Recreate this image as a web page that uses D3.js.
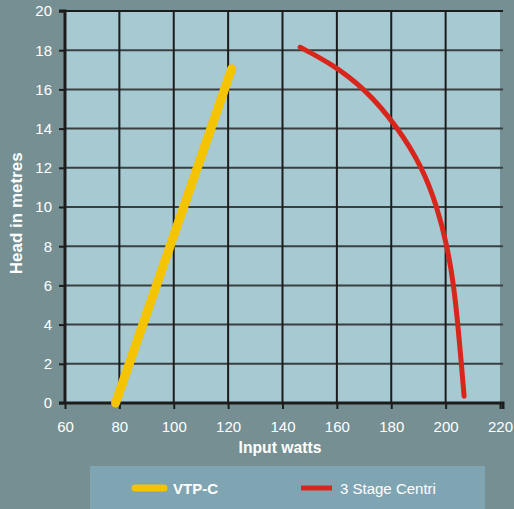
<!DOCTYPE html>
<html><head><meta charset="utf-8">
<script src="https://cdn.jsdelivr.net/npm/d3@7"></script>
<style>body{margin:0;background:#758f93;}svg{display:block;font-family:"Liberation Sans",Arial,sans-serif;}</style>
</head><body>
<svg id="c" width="514" height="509"></svg>
<script>
const xTicks = [60,80,100,120,140,160,180,200,220];
const yTicks = [0,2,4,6,8,10,12,14,16,18,20];
const vtpX = [78.6, 121.3];
const vtpY = [0, 17.05];
const centriX = [146.5,157.4,170.3,182.5,191.5,196.9,200.6,203,204.5,205.8,206.8];
const centriY = [18.15,17.36,16.05,14.05,12,10,8,6,4,2,0.35];
const seriesNames = ["VTP-C","3 Stage Centri"];

const svg = d3.select("#c");
const L=65,R=500,T=11,B=403;
const x = d3.scaleLinear().domain([60,220]).range([L,R]);
const y = d3.scaleLinear().domain([0,20]).range([B,T]);

svg.append("rect").attr("width",514).attr("height",509).attr("fill","#758f93");
svg.append("rect").attr("x",L).attr("y",T).attr("width",R-L).attr("height",B-T).attr("fill","#a7c9d1");

// grid
svg.append("g").selectAll("line").data(yTicks.slice(1)).join("line")
 .attr("x1",L).attr("x2",R+3).attr("y1",d=>y(d)).attr("y2",d=>y(d))
 .attr("stroke",d=>d===20?"#1c1c1c":"#3a3f40").attr("stroke-width",2);
svg.append("g").selectAll("line").data(xTicks.slice(1,-1)).join("line")
 .attr("x1",d=>x(d)).attr("x2",d=>x(d)).attr("y1",T).attr("y2",B)
 .attr("stroke","#1c1c1c").attr("stroke-width",2);

// axes
const ya = svg.append("g").attr("transform",`translate(${L},0)`)
 .call(d3.axisLeft(y).tickValues(yTicks).tickSize(6).tickPadding(7));
const xa = svg.append("g").attr("transform",`translate(0,${B})`)
 .call(d3.axisBottom(x).tickValues(xTicks).tickSize(6).tickPadding(12));
[ya,xa].forEach(a=>{
  a.select(".domain").attr("stroke","#1c1c1c").attr("stroke-width",3);
  a.selectAll(".tick line").attr("stroke","#1c1c1c").attr("stroke-width",2);
  a.selectAll("text").attr("fill","#fff").attr("font-size",15).attr("font-family","Liberation Sans, Arial, sans-serif");
});
ya.select(".domain").attr("d",`M-6,${T}H0V${B+1}`);
xa.select(".domain").attr("d",`M${L-6},0H${R+3}V6`);

// titles
svg.append("text").attr("x",280).attr("y",453).attr("text-anchor","middle")
 .attr("fill","#fff").attr("font-weight","bold").attr("font-size",15.7).text("Input watts");
svg.append("text").attr("transform","translate(21.5,213.3) rotate(-90)").attr("text-anchor","middle")
 .attr("fill","#fff").attr("font-weight","bold").attr("font-size",17).text("Head in metres");

// series
const line = d3.line().x(d=>x(d[0])).y(d=>y(d[1]));
svg.append("path").datum(vtpX.map((v,i)=>[v,vtpY[i]])).attr("d",line)
 .attr("fill","none").attr("stroke","#f5c400").attr("stroke-width",9).attr("stroke-linecap","round");
svg.append("path").datum(centriX.map((v,i)=>[v,centriY[i]])).attr("d",line.curve(d3.curveBasis))
 .attr("fill","none").attr("stroke","#d9261c").attr("stroke-width",5).attr("stroke-linecap","round");

// legend
svg.append("rect").attr("x",90).attr("y",466).attr("width",395).attr("height",43).attr("fill","#7fa5b3");
svg.append("line").attr("x1",135).attr("x2",164).attr("y1",488).attr("y2",488)
 .attr("stroke","#f5c400").attr("stroke-width",7).attr("stroke-linecap","round");
svg.append("text").attr("x",173).attr("y",494).attr("fill","#fff").attr("font-weight","bold").attr("font-size",15).text(seriesNames[0]);
svg.append("line").attr("x1",301).attr("x2",332).attr("y1",488).attr("y2",488)
 .attr("stroke","#d9261c").attr("stroke-width",5);
svg.append("text").attr("x",340).attr("y",494).attr("fill","#fff").attr("font-size",15).text(seriesNames[1]);
</script>
</body></html>
